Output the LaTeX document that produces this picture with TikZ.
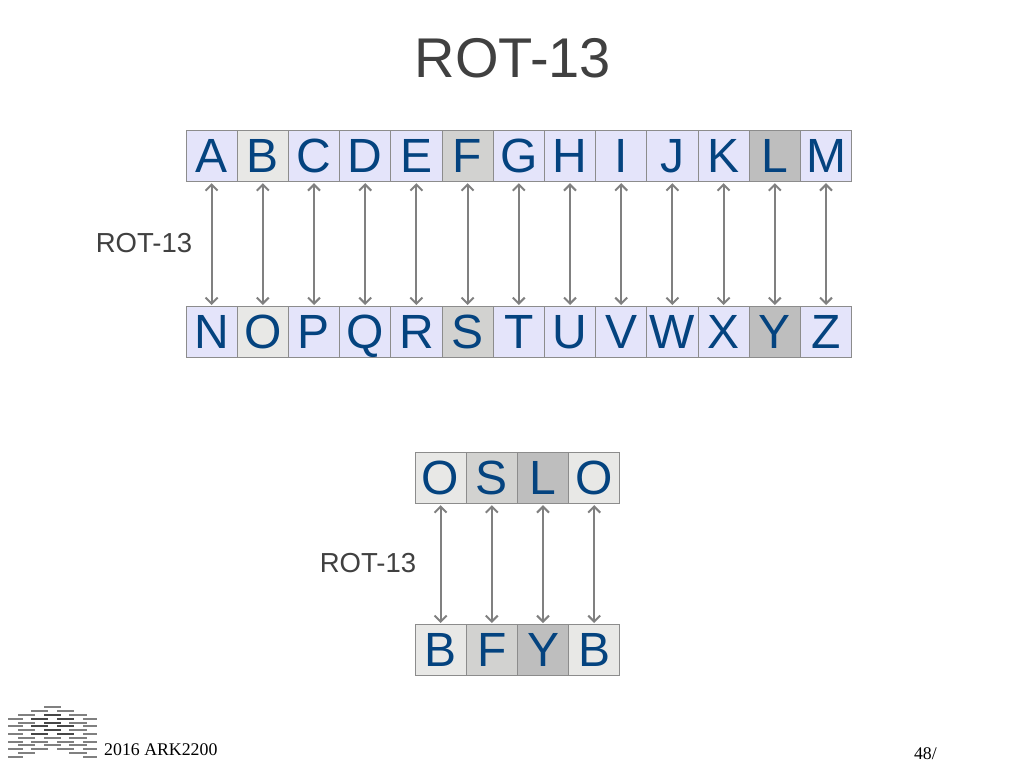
\documentclass[tikz,border=0pt]{standalone}
\usepackage{fontspec}
\setmainfont{Liberation Sans}
\newfontfamily\footfont{Liberation Serif}
\usetikzlibrary{arrows.meta}
\definecolor{lettercol}{HTML}{04437F}
\definecolor{plaincol}{HTML}{E4E4FA}
\definecolor{lightcol}{HTML}{E8E8E6}
\definecolor{midcol}{HTML}{D2D2D0}
\definecolor{darkcol}{HTML}{BEBEBE}
\definecolor{textcol}{HTML}{404040}
\tikzset{
    cell/.style={draw=black!45, line width=1pt, minimum size=51.2pt, inner sep=0pt, text height=34.4pt, text depth=0pt, text=lettercol, font=\fontsize{48}{48}\selectfont, anchor=center},
    link/.style={draw=black!50, line width=2pt, {Straight Barb[length=6pt,width=12pt]}-{Straight Barb[length=6pt,width=12pt]}, shorten <=1.5pt, shorten >=0.5pt},
    rotlabel/.style={text=textcol, font=\fontsize{27.5}{28}\selectfont, inner sep=0pt},
    footnote/.style={text=black, font=\footfont\fontsize{17.8}{18}\selectfont, inner sep=0pt},
    bar/.style={line width=1.8pt, black!50},
    darkbar/.style={line width=2pt, black!72}
}
\begin{document}
\begin{tikzpicture}[x=1pt, y=-1pt]
    \useasboundingbox (0,0) rectangle (1024,768);
    \node[text=textcol, font=\fontsize{56}{56}\selectfont, inner sep=0pt] (title) at (513,58) {ROT-13};
    % upper alphabet
    \foreach \i/\top/\bot/\col in {1/A/N/plaincol, 2/B/O/lightcol, 3/C/P/plaincol, 4/D/Q/plaincol, 5/E/R/plaincol, 6/F/S/midcol, 7/G/T/plaincol, 8/H/U/plaincol, 9/I/V/plaincol, 10/J/W/plaincol, 11/K/X/plaincol, 12/L/Y/darkcol, 13/M/Z/plaincol} {
        \node[cell, fill=\col] (up\i) at (160.4+51.2*\i,155.6) {\top};
        \node[cell, fill=\col] (lo\i) at (160.4+51.2*\i,331.6) {\bot};
        \draw[link] (up\i) -- (lo\i);
    }
    \node[rotlabel] (rotone) at (144,243) {ROT-13};
    % word
    \foreach \i/\top/\bot/\col in {1/O/B/lightcol, 2/S/F/midcol, 3/L/Y/darkcol, 4/O/B/lightcol} {
        \node[cell, fill=\col] (wa\i) at (389.4+51.2*\i,477.6) {\top};
        \node[cell, fill=\col] (wb\i) at (389.4+51.2*\i,649.6) {\bot};
        \draw[link] (wa\i) -- (wb\i);
    }
    \node[rotlabel] (rottwo) at (368,563) {ROT-13};
    % footer
    \foreach \y in {715,723,730,738,745,753} {
        \foreach \a/\b in {18/35,69/87} {
            \draw[bar] (\a,\y) -- (\b,\y);
        }
    }
    \foreach \y in {719,726,734,742,749,757} {
        \foreach \a/\b in {8/23,83/97} {
            \draw[bar] (\a,\y) -- (\b,\y);
        }
    }
    \foreach \y in {749,742} {
        \foreach \a/\b in {31/48,57/74} {
            \draw[bar] (\a,\y) -- (\b,\y);
        }
    }
    \foreach \y in {738,745} {
        \draw[bar] (44,\y) -- (61,\y);
    }
    \draw[bar] (44,707) -- (61,707);
    \draw[bar] (31,711) -- (48,711);
    \draw[bar] (57,711) -- (74,711);
    \foreach \y in {719,726,734} {
        \foreach \a/\b in {31/48,57/74} {
            \draw[darkbar] (\a,\y) -- (\b,\y);
        }
    }
    \foreach \y in {715,723,730} {
        \draw[darkbar] (44,\y) -- (61,\y);
    }
    \node[footnote, anchor=base west] (year) at (104,755) {2016 ARK2200};
    \node[footnote, anchor=base east] (pageno) at (937,759) {48/};
\end{tikzpicture}
\end{document}
